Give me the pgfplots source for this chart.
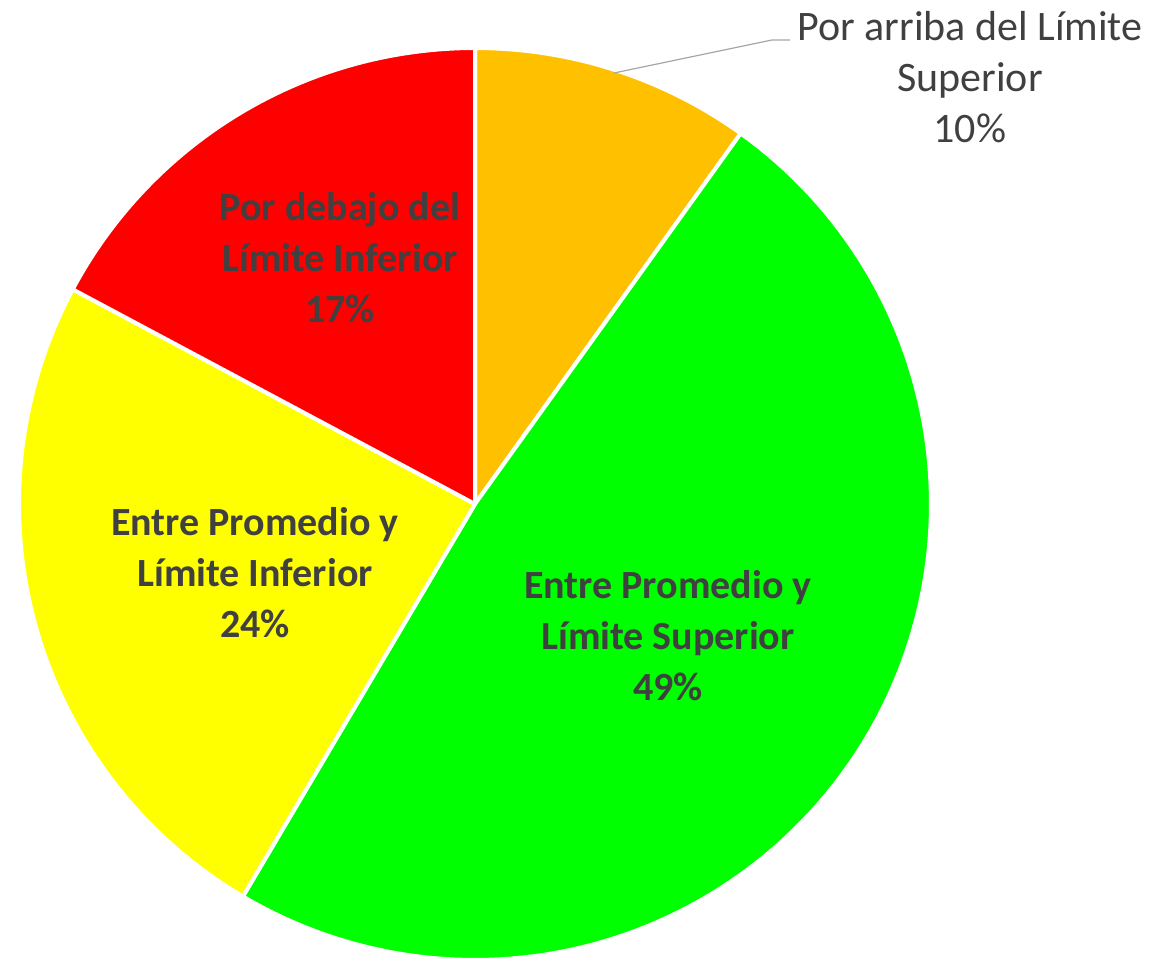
\documentclass[border=0pt]{standalone}
\usepackage{fontspec}
\setmainfont{Carlito}
\usepackage{pgfplots}
\usepackage{pgfplotstable}
\pgfplotsset{compat=1.18}

\definecolor{cOrange}{HTML}{FFC000}
\definecolor{cGreen}{HTML}{00FF00}
\definecolor{cYellow}{HTML}{FFFF00}
\definecolor{cRed}{HTML}{FF0000}
\definecolor{txt}{HTML}{404040}

% share of each slice, clockwise from 12 o'clock
\pgfplotstableread{
slice pct
arriba 9.9
entreSup 48.6
entreInf 24.3
debajo 17.2
}\piedata

\pgfplotstablegetelem{0}{pct}\of\piedata \let\pA\pgfplotsretval
\pgfplotstablegetelem{1}{pct}\of\piedata \let\pB\pgfplotsretval
\pgfplotstablegetelem{2}{pct}\of\piedata \let\pC\pgfplotsretval
\pgfplotstablegetelem{3}{pct}\of\piedata \let\pD\pgfplotsretval
\pgfmathsetmacro\aA{90-3.6*\pA}
\pgfmathsetmacro\aB{\aA-3.6*\pB}
\pgfmathsetmacro\aC{\aB-3.6*\pC}
\pgfmathsetmacro\aD{\aC-3.6*\pD}
\newcommand\pct[1]{\pgfmathprintnumber[fixed,precision=0,assume math mode=true]{#1}\%}

\newcommand\cx{475}
\newcommand\cy{457}
\newcommand\rr{456}

\tikzset{
    pie/.style={draw=white, line width=2pt, line join=round, samples=120},
    lab/.style={text=txt, align=center, inner sep=0pt,
        font=\fontsize{20}{25.5}\selectfont\bfseries},
}

\begin{document}
\begin{tikzpicture}
\begin{axis}[
    width=576.5pt, height=480.5pt, scale only axis,
    xmin=0, xmax=1153, ymin=0, ymax=961,
    hide axis, clip=false,
]
\path (rel axis cs:0,0) rectangle (rel axis cs:1,1);

\addplot[pie, fill=cOrange, domain=\aA:90]
    ({\cx+\rr*cos(x)}, {\cy+\rr*sin(x)}) -- (axis cs:\cx,\cy) -- cycle;
\addplot[pie, fill=cGreen, domain=\aB:\aA]
    ({\cx+\rr*cos(x)}, {\cy+\rr*sin(x)}) -- (axis cs:\cx,\cy) -- cycle;
\addplot[pie, fill=cYellow, domain=\aC:\aB]
    ({\cx+\rr*cos(x)}, {\cy+\rr*sin(x)}) -- (axis cs:\cx,\cy) -- cycle;
\addplot[pie, fill=cRed, domain=\aD:\aC]
    ({\cx+\rr*cos(x)}, {\cy+\rr*sin(x)}) -- (axis cs:\cx,\cy) -- cycle;

\node[lab] at (axis cs:340,703) {Por debajo del\\Límite Inferior\\\pct{\pD}};
\node[lab] at (axis cs:255,388) {Entre Promedio y\\Límite Inferior\\\pct{\pC}};
\node[lab] at (axis cs:668,325) {Entre Promedio y\\Límite Superior\\\pct{\pB}};
\node[lab, font=\fontsize{21}{25.5}\selectfont] at (axis cs:970,884)
    {Por arriba del Límite\\Superior\\\pct{\pA}};

\draw[black!35, line width=0.6pt] (axis cs:614,888) -- (axis cs:772,921) -- (axis cs:790,921);
\end{axis}
\end{tikzpicture}
\end{document}
